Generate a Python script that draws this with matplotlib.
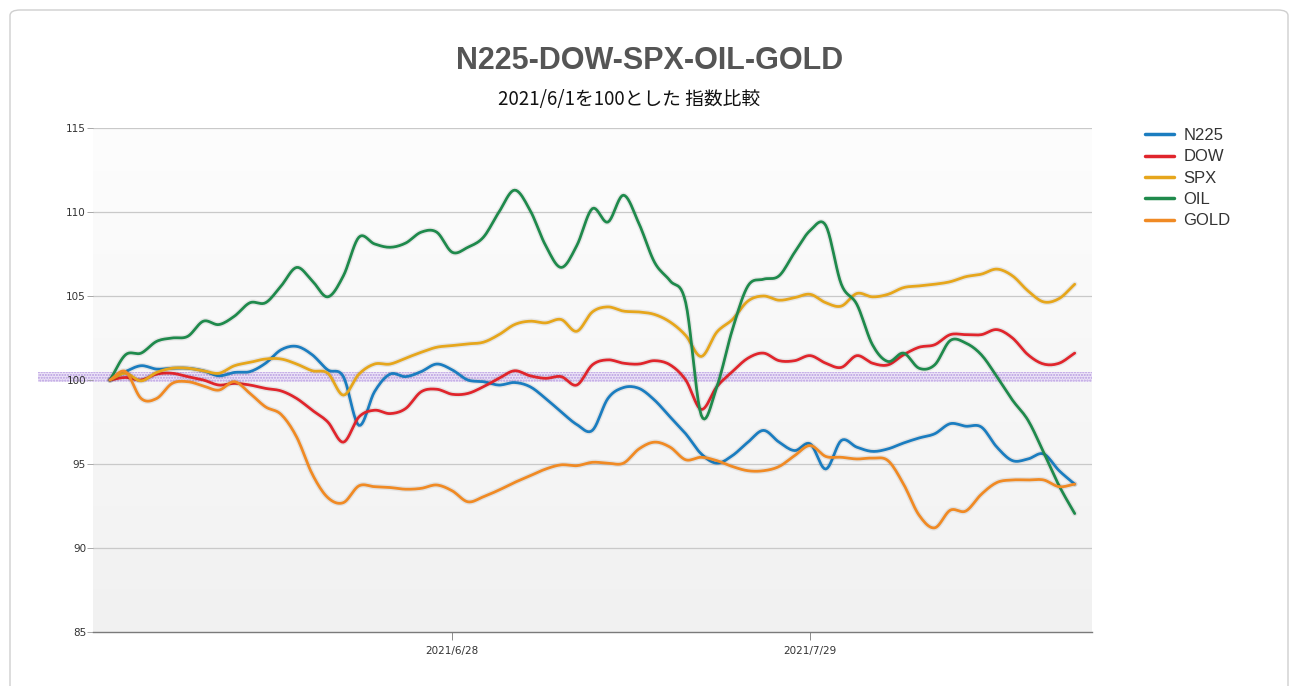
import numpy as np
import matplotlib
matplotlib.use("Agg")
import matplotlib.pyplot as plt
import matplotlib.patheffects as pe
from matplotlib.patches import FancyBboxPatch, Rectangle

# ---- data (index = trading-day step from 2021/6/1) ----
n225 = [100.0, 100.5, 100.85, 100.65, 100.7, 100.7, 100.55, 100.25, 100.45, 100.5,
        101.0, 101.8, 102.0, 101.5, 100.6, 100.2, 97.3, 99.3, 100.35, 100.2,
        100.5, 100.95, 100.6, 100.0, 99.9, 99.7, 99.85, 99.6, 98.9, 98.1,
        97.35, 97.0, 98.9, 99.55, 99.5, 98.8, 97.8, 96.8, 95.6, 95.05,
        95.5, 96.3, 97.0, 96.3, 95.8, 96.2, 94.7, 96.4, 96.0, 95.75,
        95.9, 96.25, 96.55, 96.8, 97.4, 97.25, 97.2, 96.0, 95.2, 95.3,
        95.6, 94.6, 93.8]
dow = [100.0, 100.15, 100.0, 100.35, 100.4, 100.2, 100.0, 99.7, 99.8, 99.7,
       99.5, 99.35, 98.9, 98.2, 97.5, 96.3, 97.8, 98.2, 98.0, 98.3,
       99.3, 99.45, 99.15, 99.2, 99.6, 100.1, 100.55, 100.25, 100.1, 100.2,
       99.7, 100.9, 101.2, 101.0, 100.95, 101.15, 100.9, 100.0, 98.25, 99.6,
       100.5, 101.3, 101.6, 101.15, 101.15, 101.45, 101.0, 100.75, 101.45, 101.0,
       100.9, 101.5, 101.95, 102.1, 102.7, 102.7, 102.7, 103.0, 102.5, 101.5,
       100.95, 101.0, 101.6]
spx = [100.0, 100.4, 99.95, 100.45, 100.7, 100.7, 100.55, 100.4, 100.85, 101.05,
       101.25, 101.25, 100.95, 100.55, 100.4, 99.1, 100.35, 100.95, 100.95, 101.3,
       101.65, 101.95, 102.05, 102.15, 102.25, 102.7, 103.3, 103.5, 103.4, 103.6,
       102.9, 104.05, 104.35, 104.1, 104.05, 103.9, 103.45, 102.65, 101.4, 102.85,
       103.6, 104.7, 105.0, 104.75, 104.9, 105.1, 104.6, 104.4, 105.15, 104.95,
       105.1, 105.5, 105.6, 105.7, 105.85, 106.15, 106.3, 106.6, 106.2, 105.3,
       104.65, 104.85, 105.7]
oil = [100.0, 101.5, 101.6, 102.3, 102.5, 102.6, 103.5, 103.3, 103.8, 104.6,
       104.6, 105.6, 106.7, 105.9, 104.95, 106.2, 108.5, 108.1, 107.9, 108.15,
       108.8, 108.8, 107.6, 107.9, 108.5, 110.0, 111.3, 110.1, 108.0, 106.7,
       108.0, 110.2, 109.4, 111.0, 109.3, 107.0, 105.9, 104.6, 97.9, 99.6,
       103.0, 105.6, 106.0, 106.2, 107.6, 108.9, 109.2, 105.7, 104.5, 102.1,
       101.1, 101.6, 100.7, 100.9, 102.35, 102.2, 101.5, 100.2, 98.8, 97.6,
       95.7, 93.7, 92.05]
gold = [100.0, 100.5, 98.9, 98.9, 99.8, 99.9, 99.65, 99.4, 99.9, 99.2,
        98.4, 97.95, 96.6, 94.4, 93.0, 92.7, 93.7, 93.65, 93.6, 93.5,
        93.55, 93.75, 93.4, 92.75, 93.05, 93.45, 93.9, 94.3, 94.7, 94.95,
        94.9, 95.1, 95.05, 95.05, 95.9, 96.3, 96.0, 95.25, 95.4, 95.2,
        94.85, 94.6, 94.6, 94.85, 95.5, 96.1, 95.45, 95.4, 95.3, 95.35,
        95.2, 93.8, 91.95, 91.2, 92.25, 92.2, 93.2, 93.9, 94.05, 94.05,
        94.05, 93.65, 93.8]

series_names = ["N225", "DOW", "SPX", "OIL", "GOLD"]
series_values = [n225, dow, spx, oil, gold]
series_colors = ["#1b7dc0", "#e0252c", "#e6a61c", "#1f8a4c", "#f08a24"]

tick_labels = ["2021/6/28", "2021/7/29"]
tick_index = [22, 45]
y_ticks = [85, 90, 95, 100, 105, 110, 115]

title = "N225-DOW-SPX-OIL-GOLD"
subtitle = "2021/6/1を100とした 指数比較"


def smooth(xs, ys, sub=10):
    """Catmull-Rom rendering of a line through the data points (display only)."""
    xs = np.asarray(xs, float)
    ys = np.asarray(ys, float)
    px = np.concatenate([[2 * xs[0] - xs[1]], xs, [2 * xs[-1] - xs[-2]]])
    py = np.concatenate([[2 * ys[0] - ys[1]], ys, [2 * ys[-1] - ys[-2]]])
    t = np.linspace(0, 1, sub, endpoint=False)
    ox, oy = [], []
    for i in range(1, len(px) - 2):
        for arr, out in ((px, ox), (py, oy)):
            p0, p1, p2, p3 = arr[i - 1], arr[i], arr[i + 1], arr[i + 2]
            out.extend(0.5 * (2 * p1 + (-p0 + p2) * t + (2 * p0 - 5 * p1 + 4 * p2 - p3) * t ** 2
                              + (-p0 + 3 * p1 - 3 * p2 + p3) * t ** 3))
    ox.append(xs[-1])
    oy.append(ys[-1])
    return np.array(ox), np.array(oy)


# ---- figure ----
W, H = 1293, 686
fig = plt.figure(figsize=(W / 100, H / 100), dpi=100)
fig.patch.set_facecolor("white")

card = FancyBboxPatch((10 / W, -20 / H), 1278 / W, (H - 10 + 20) / H,
                      boxstyle="round,pad=0,rounding_size=0.008",
                      transform=fig.transFigure, facecolor="none",
                      edgecolor="#cfcfcf", linewidth=1.0, zorder=-10)
fig.patches.append(card)

ax = fig.add_axes([93 / W, (H - 632) / H, 999 / W, 504 / H])
ax.set_facecolor("none")

x = np.arange(len(n225))
ax.set_xlim(-1.09, 63.11)
ax.set_ylim(85, 115)

# background gradient
grad = np.linspace(0, 1, 256).reshape(-1, 1)
ax.imshow(grad, extent=[0, 1, 0, 1], transform=ax.transAxes, aspect="auto",
          cmap=matplotlib.colors.LinearSegmentedColormap.from_list("g", ["#f1f1f1", "#fdfdfd"]),
          origin="lower", zorder=0)

for yv in y_ticks[1:]:
    ax.axhline(yv, color="#c9c9c9", linewidth=0.9, zorder=1)

# highlight band at 100
band = Rectangle((-0.055, 99.86), 1.055, 0.6, transform=ax.get_yaxis_transform(),
                 facecolor="#ece4f7", edgecolor="#b79be0", hatch="......",
                 linewidth=0, clip_on=False, zorder=1.5)
ax.add_patch(band)

for name, vals, col in zip(series_names, series_values, series_colors):
    sx, sy = smooth(x, vals)
    ax.plot(sx, sy, color=col, linewidth=2.0, label=name, zorder=3,
            solid_joinstyle="round", solid_capstyle="round",
            path_effects=[pe.Stroke(linewidth=4, foreground=(0, 0, 0, 0.07)), pe.Normal()])

for s in ["top", "right", "left"]:
    ax.spines[s].set_visible(False)
ax.spines["bottom"].set_color("#7a7a7a")
ax.spines["bottom"].set_linewidth(1.0)

ax.set_yticks(y_ticks)
ax.set_yticklabels([str(v) for v in y_ticks])
ax.tick_params(axis="y", length=4, width=0.6, color="#9a9a9a", labelsize=7.5,
               labelcolor="#333333", pad=1)
ax.set_xticks(tick_index)
ax.set_xticklabels(tick_labels)
ax.tick_params(axis="x", length=6, width=0.6, color="#7a7a7a", labelsize=7.5,
               labelcolor="#333333", pad=4)

fig.text(650 / W, 1 - 61 / H, title, ha="center", va="center", fontsize=22,
         fontweight="bold", color="#555555", family=["Liberation Sans", "DejaVu Sans"])
fig.text(629 / W, 1 - 99 / H, subtitle, ha="center", va="center", fontsize=13.5,
         color="#111111", family=["Noto Sans CJK JP", "DejaVu Sans"])

leg = fig.legend(loc="upper left", bbox_to_anchor=(1130 / W, 1 - 113 / H),
                 frameon=False, handlelength=1.75, handletextpad=0.55,
                 labelspacing=0.38, prop={"family": ["Liberation Sans", "DejaVu Sans"], "size": 12})
for t in leg.get_texts():
    t.set_color("#333333")
for h in leg.legend_handles:
    h.set_path_effects([])
    h.set_linewidth(2.5)

fig.savefig("out.png", dpi=100)
